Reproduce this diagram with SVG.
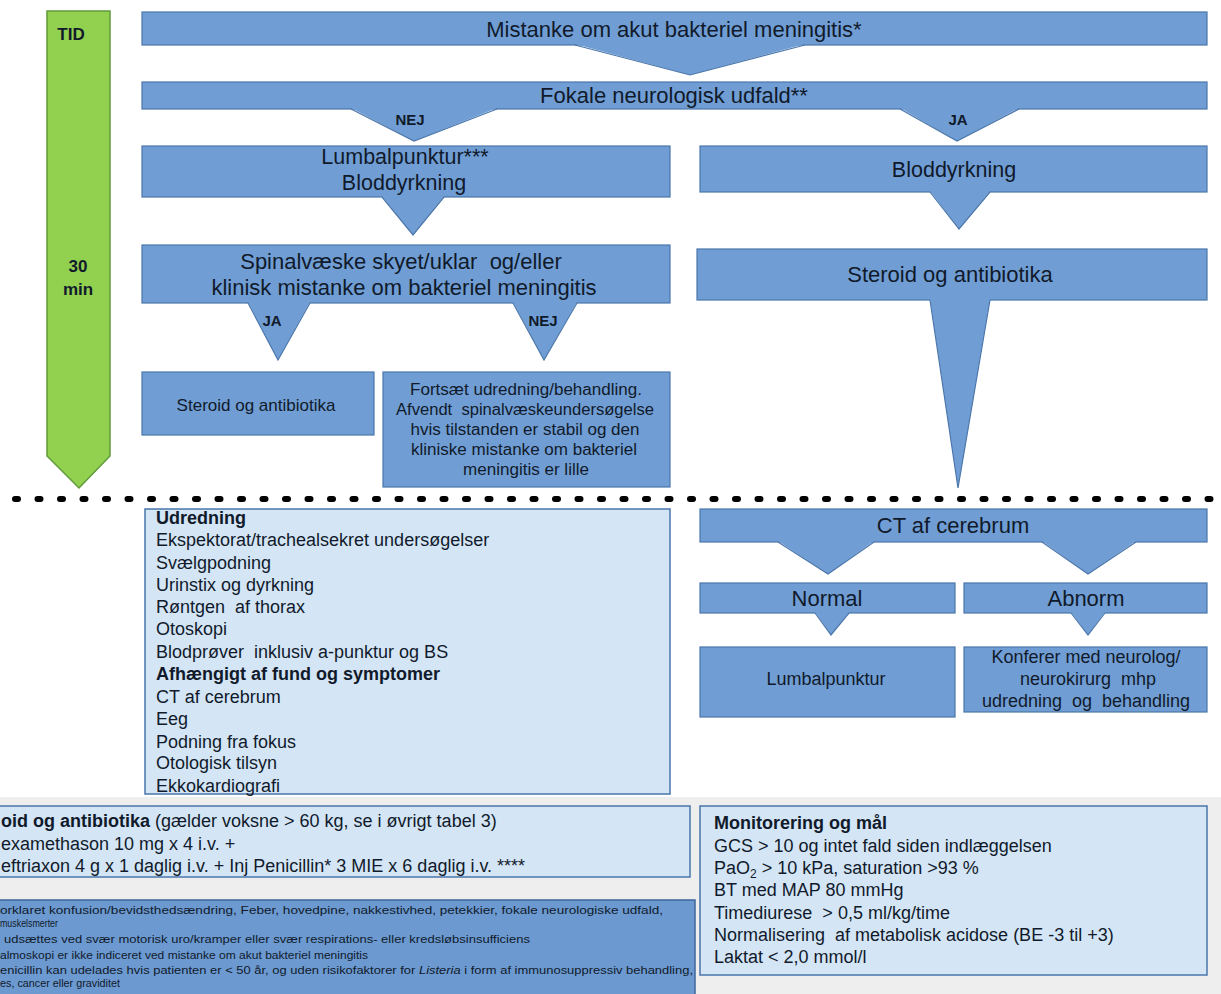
<svg xmlns="http://www.w3.org/2000/svg" width="1221" height="994" viewBox="0 0 1221 994">
<style>
.box{fill:#709ed4;stroke:#4a76ab;stroke-width:1.2}
.lbox{fill:#d4e6f6;stroke:#4a76ab;stroke-width:1.5}
.fbox{fill:#6b99d0;stroke:#3e679c;stroke-width:1.5}
.tri{fill:#709ed4;stroke:none}
.edge{fill:none;stroke:#4a76ab;stroke-width:1.2}
.t{font-family:"Liberation Sans",Arial,sans-serif;fill:#111a2b}
.c{text-anchor:middle}
.b{font-weight:bold}
.s22{font-size:22px}
.s21{font-size:21.5px}
.s18{font-size:18px}
.s17{font-size:17px}
.s16{font-size:16px}
.s10{font-size:10.5px}
.lab{font-family:"Liberation Sans",Arial,sans-serif;fill:#111a2b;font-weight:bold;font-size:15px;text-anchor:middle}
</style>
<rect x="0" y="0" width="1221" height="994" fill="#ffffff"/>
<rect x="0" y="797" width="1221" height="197" fill="#eeeeee"/>

<g id="tid">
<polygon points="47,11 110,11 110,456 79,488 47,456" fill="#92d050" stroke="#5f9a38" stroke-width="1.5"/>
<text class="t b c" x="71" y="40" font-size="17">TID</text>
<text class="t b c" x="78" y="272" font-size="17">30</text>
<text class="t b c" x="78" y="295" font-size="17">min</text>
</g>

<g id="n-mistanke">
<rect class="box" x="142" y="12" width="1065" height="33"/>
<text class="t c s22" x="674" y="37">Mistanke om akut bakteriel meningitis*</text>
</g>
<g id="n-fokale">
<rect class="box" x="142" y="82" width="1065" height="27"/>
<text class="t c s22" x="674" y="103">Fokale neurologisk udfald**</text>
</g>
<g id="n-lumbal">
<rect class="box" x="142" y="146" width="528" height="51"/>
<text class="t c s21" x="405" y="164">Lumbalpunktur***</text>
<text class="t c s21" x="404" y="190">Bloddyrkning</text>
</g>
<g id="n-blod">
<rect class="box" x="700" y="146" width="507" height="46"/>
<text class="t c s21" x="954" y="177">Bloddyrkning</text>
</g>
<g id="n-spinal">
<rect class="box" x="142" y="245" width="528" height="58"/>
<text class="t c s22" x="401" y="269" xml:space="preserve">Spinalvæske skyet/uklar  og/eller</text>
<text class="t c s22" x="404" y="295">klinisk mistanke om bakteriel meningitis</text>
</g>
<g id="n-steroid1">
<rect class="box" x="697" y="249" width="510" height="51"/>
<text class="t c s22" x="950" y="282">Steroid og antibiotika</text>
</g>
<g id="n-steroid2">
<rect class="box" x="142" y="372" width="232" height="63"/>
<text class="t c s17" x="256" y="411">Steroid og antibiotika</text>
</g>
<g id="n-fortsaet">
<rect class="box" x="383" y="372" width="287" height="115"/>
<text class="t c s16" x="526" y="395" textLength="232" lengthAdjust="spacingAndGlyphs">Fortsæt udredning/behandling.</text>
<text class="t c s16" x="525" y="415" textLength="258" lengthAdjust="spacingAndGlyphs" xml:space="preserve">Afvendt  spinalvæskeundersøgelse</text>
<text class="t c s16" x="525" y="435" textLength="229" lengthAdjust="spacingAndGlyphs">hvis tilstanden er stabil og den</text>
<text class="t c s16" x="524" y="455" textLength="226" lengthAdjust="spacingAndGlyphs">kliniske mistanke om bakteriel</text>
<text class="t c s16" x="526" y="475" textLength="126" lengthAdjust="spacingAndGlyphs">meningitis er lille</text>
</g>

<g id="separator">
<line x1="15" y1="499" x2="1221" y2="499" stroke="#000" stroke-width="6" stroke-dasharray="3 19.5" stroke-linecap="round"/>
</g>

<g id="n-udredning">
<rect class="lbox" x="145" y="509" width="525" height="285"/>
<text class="t s18 b" x="156" y="524">Udredning</text>
<text class="t s18" x="156" y="546">Ekspektorat/trachealsekret undersøgelser</text>
<text class="t s18" x="156" y="569">Svælgpodning</text>
<text class="t s18" x="156" y="591">Urinstix og dyrkning</text>
<text class="t s18" x="156" y="613" xml:space="preserve">Røntgen  af thorax</text>
<text class="t s18" x="156" y="635">Otoskopi</text>
<text class="t s18" x="156" y="658" xml:space="preserve">Blodprøver  inklusiv a-punktur og BS</text>
<text class="t s18 b" x="156" y="680">Afhængigt af fund og symptomer</text>
<text class="t s18" x="156" y="703">CT af cerebrum</text>
<text class="t s18" x="156" y="725">Eeg</text>
<text class="t s18" x="156" y="748">Podning fra fokus</text>
<text class="t s18" x="156" y="769">Otologisk tilsyn</text>
<text class="t s18" x="156" y="792">Ekkokardiografi</text>
</g>

<g id="n-ct">
<rect class="box" x="700" y="509" width="507" height="33"/>
<text class="t c s22" x="953" y="533">CT af cerebrum</text>
</g>
<g id="n-normal">
<rect class="box" x="700" y="583" width="255" height="30"/>
<text class="t c s22" x="827" y="606">Normal</text>
</g>
<g id="n-abnorm">
<rect class="box" x="964" y="583" width="243" height="30"/>
<text class="t c s22" x="1086" y="606">Abnorm</text>
</g>
<g id="n-lumbal2">
<rect class="box" x="700" y="647" width="255" height="70"/>
<text class="t c s18" x="826" y="685">Lumbalpunktur</text>
</g>
<g id="n-konferer">
<rect class="box" x="964" y="647" width="243" height="65"/>
<text class="t c s18" x="1086" y="663">Konferer med neurolog/</text>
<text class="t c s18" x="1088" y="685" xml:space="preserve">neurokirurg  mhp</text>
<text class="t c s18" x="1086" y="707" xml:space="preserve">udredning  og  behandling</text>
</g>

<g id="connectors">
<polygon class="tri" points="575,44 805,44 690,75"/><polyline class="edge" points="575,45 690,75 805,45"/>
<polygon class="tri" points="351,108 497,108 414,141"/><polyline class="edge" points="351,109 414,141 497,109"/>
<polygon class="tri" points="900,108 1019,108 957,141"/><polyline class="edge" points="900,109 957,141 1019,109"/>
<polygon class="tri" points="382,196 444,196 413,235"/><polyline class="edge" points="382,197 413,235 444,197"/>
<polygon class="tri" points="930,191 990,191 959,229"/><polyline class="edge" points="930,192 959,229 990,192"/>
<polygon class="tri" points="248,302 310,302 278,360"/><polyline class="edge" points="248,303 278,360 310,303"/>
<polygon class="tri" points="513,302 577,302 544,360"/><polyline class="edge" points="513,303 544,360 577,303"/>
<polygon class="tri" points="930,299 990,299 958,488"/><polyline class="edge" points="930,300 958,488 990,300"/>
<polygon class="tri" points="778,541 874,541 828,574"/><polyline class="edge" points="778,542 828,574 874,542"/>
<polygon class="tri" points="1042,541 1136,541 1088,574"/><polyline class="edge" points="1042,542 1088,574 1136,542"/>
<polygon class="tri" points="815,612 849,612 831,635"/><polyline class="edge" points="815,613 831,635 849,613"/>
<polygon class="tri" points="1071,612 1105,612 1088,635"/><polyline class="edge" points="1071,613 1088,635 1105,613"/>
<text class="lab" x="410" y="125">NEJ</text>
<text class="lab" x="958" y="125">JA</text>
<text class="lab" x="272" y="326">JA</text>
<text class="lab" x="543" y="326">NEJ</text>
</g>

<g id="n-dosering">
<rect class="lbox" x="-5" y="806" width="695" height="71"/>
<text class="t s18" x="1" y="827"><tspan font-weight="bold">oid og antibiotika</tspan> (gælder voksne &gt; 60 kg, se i øvrigt  tabel 3)</text>
<text class="t s18" x="1" y="850">examethason 10 mg x 4 i.v. +</text>
<text class="t s18" x="1" y="872">eftriaxon 4 g x 1 daglig i.v. + Inj Penicillin* 3 MIE x 6 daglig i.v. ****</text>
</g>

<g id="n-monitorering">
<rect class="lbox" x="700" y="806" width="507" height="169"/>
<text class="t s18 b" x="714" y="829">Monitorering og mål</text>
<text class="t s18" x="714" y="852">GCS &gt; 10 og intet fald siden indlæggelsen</text>
<text class="t s18" x="714" y="874">PaO<tspan font-size="12" dy="4">2</tspan><tspan dy="-4"> &gt; 10 kPa, saturation &gt;93 %</tspan></text>
<text class="t s18" x="714" y="896">BT med MAP 80 mmHg</text>
<text class="t s18" x="714" y="919" xml:space="preserve">Timediurese  &gt; 0,5 ml/kg/time</text>
<text class="t s18" x="714" y="941" xml:space="preserve">Normalisering  af metabolisk acidose (BE -3 til +3)</text>
<text class="t s18" x="714" y="963">Laktat &lt; 2,0 mmol/l</text>
</g>

<g id="n-fodnoter">
<rect class="fbox" x="-5" y="900" width="700" height="100"/>
<text class="t s10" x="0" y="914" textLength="663" lengthAdjust="spacingAndGlyphs">orklaret konfusion/bevidsthedsændring, Feber, hovedpine, nakkestivhed, petekkier, fokale neurologiske udfald,</text>
<text class="t s10" x="0" y="927" textLength="58" lengthAdjust="spacingAndGlyphs">muskelsmerter</text>
<text class="t s10" x="4" y="943" textLength="526" lengthAdjust="spacingAndGlyphs">udsættes ved svær motorisk uro/kramper eller svær respirations- eller kredsløbsinsufficiens</text>
<text class="t s10" x="0" y="959" textLength="368" lengthAdjust="spacingAndGlyphs">almoskopi er ikke indiceret ved mistanke om akut bakteriel meningitis</text>
<text class="t s10" x="0" y="974" textLength="693" lengthAdjust="spacingAndGlyphs">enicillin kan udelades hvis patienten er &lt; 50 år, og uden risikofaktorer for <tspan font-style="italic">Listeria</tspan> i form af immunosuppressiv behandling,</text>
<text class="t s10" x="0" y="987" textLength="120" lengthAdjust="spacingAndGlyphs">es, cancer eller graviditet</text>
</g>
</svg>
